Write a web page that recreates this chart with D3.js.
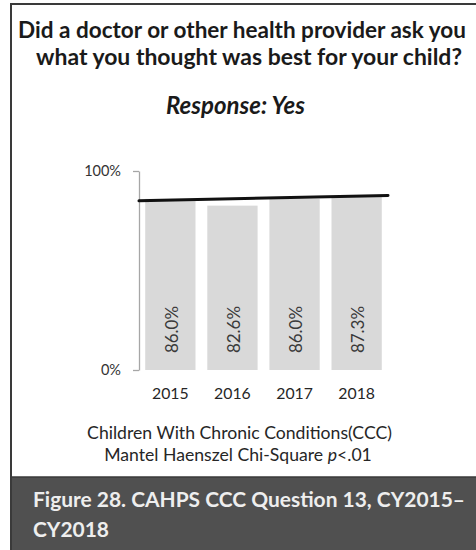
<!DOCTYPE html>
<html>
<head>
<meta charset="utf-8">
<script src="https://cdn.jsdelivr.net/npm/d3@7"></script>
<style>
  html, body { margin: 0; padding: 0; background: #ffffff; }
  svg { display: block; }
  text { font-family: Lato, "Open Sans", sans-serif; }
</style>
</head>
<body>
<svg id="chart" width="476" height="550"></svg>
<script>
// Survey years and the share of parents answering "Yes"
const years = ["2015", "2016", "2017", "2018"];
const yesShare = [86.0, 82.6, 86.0, 87.3];
// Trend line level at the start and end of the period (percent)
const trendEnds = [85.0, 87.7];
// Axis ticks (percent)
const yTicks = [0, 100];

const titleLines = [
  "Did a doctor or other health provider ask you",
  "what you thought was best for your child?"
];
const subtitle = "Response: Yes";
const noteLine1 = "Children With Chronic Conditions(CCC)";
const noteLine2 = ["Mantel Haenszel Chi-Square ", "p", "<.01"];
const captionLines = ["Figure 28. CAHPS CCC Question 13, CY2015\u2013", "CY2018"];

const svg = d3.select("#chart");

// scale a text's font size so that it spans the given width
function fit(sel, width) {
  const len = sel.node().getComputedTextLength();
  const fs = parseFloat(sel.attr("font-size"));
  sel.attr("font-size", (fs * width / len).toFixed(2));
  return sel;
}

// frame
svg.append("rect")
  .attr("x", 11).attr("y", 477).attr("width", 465).attr("height", 73)
  .attr("fill", "#505050");
svg.append("line")
  .attr("x1", 11).attr("x2", 476).attr("y1", 477).attr("y2", 477)
  .attr("stroke", "#3a3a3a").attr("stroke-width", 1.5);
svg.append("line")
  .attr("x1", 10).attr("x2", 476).attr("y1", 4).attr("y2", 4)
  .attr("stroke", "#3a3a3a").attr("stroke-width", 2);
svg.append("line")
  .attr("x1", 11).attr("x2", 11).attr("y1", 3).attr("y2", 550)
  .attr("stroke", "#3a3a3a").attr("stroke-width", 2);

// title
const t1 = svg.append("text")
  .attr("x", 242).attr("y", 37.5).attr("text-anchor", "middle")
  .attr("font-size", 20).attr("font-weight", 700).attr("fill", "#1a1a1a")
  .text(titleLines[0]);
fit(t1, 448);
const t2 = svg.append("text")
  .attr("x", 249).attr("y", 65).attr("text-anchor", "middle")
  .attr("font-size", 20).attr("font-weight", 700).attr("fill", "#1a1a1a")
  .text(titleLines[1]);
fit(t2, 426);
const st = svg.append("text")
  .attr("x", 235.5).attr("y", 114).attr("text-anchor", "middle")
  .attr("font-size", 18).attr("font-weight", 700).attr("font-style", "italic")
  .attr("fill", "#1a1a1a")
  .text(subtitle);
fit(st, 139);

// scales
const x = d3.scaleBand()
  .domain(years)
  .range([139, 388])
  .paddingInner(0.19)
  .paddingOuter(0.1);
const y = d3.scaleLinear().domain([0, 100]).range([370, 171]);

// y axis
const yAxis = svg.append("g")
  .attr("transform", "translate(139,0)")
  .call(d3.axisLeft(y).tickValues(yTicks).tickSize(6).tickSizeOuter(0)
    .tickPadding(12).tickFormat(d => d + "%"));
yAxis.select(".domain").attr("stroke", "#a6a6a6").attr("stroke-width", 1.3);
yAxis.selectAll(".tick line").attr("stroke", "#a6a6a6").attr("stroke-width", 1.3);
yAxis.selectAll(".tick text")
  .attr("font-family", "Lato, sans-serif").attr("font-size", 14.5)
  .attr("fill", "#333333");

// bars
svg.append("g").selectAll("rect")
  .data(years)
  .join("rect")
  .attr("x", d => x(d))
  .attr("width", x.bandwidth())
  .attr("y", (d, i) => y(yesShare[i]))
  .attr("height", (d, i) => y(0) - y(yesShare[i]))
  .attr("fill", "#d9d9d9");

// value labels inside the bars
svg.append("g").selectAll("text")
  .data(years)
  .join("text")
  .attr("transform", d => `translate(${x(d) + x.bandwidth() / 2 + 1},329.5) rotate(-90)`)
  .attr("text-anchor", "middle")
  .attr("dominant-baseline", "central")
  .attr("font-size", 17)
  .attr("fill", "#3a3a3a")
  .text((d, i) => yesShare[i].toFixed(1) + "%");

// trend line across the plot
const [x0, x1] = x.range();
svg.append("line")
  .attr("x1", x0).attr("x2", x1)
  .attr("y1", y(trendEnds[0])).attr("y2", y(trendEnds[1]))
  .attr("stroke", "#111111").attr("stroke-width", 3)
  .attr("stroke-linecap", "round");

// year labels
svg.append("g").selectAll("text")
  .data(years)
  .join("text")
  .attr("x", d => x(d) + x.bandwidth() / 2)
  .attr("y", 399)
  .attr("text-anchor", "middle")
  .attr("font-size", 15.8)
  .attr("fill", "#262626")
  .text(d => d);

// footnotes
const n1 = svg.append("text")
  .attr("x", 239.5).attr("y", 439).attr("text-anchor", "middle")
  .attr("font-size", 15).attr("fill", "#262626")
  .text(noteLine1);
fit(n1, 305);
const n2 = svg.append("text")
  .attr("x", 238).attr("y", 461).attr("text-anchor", "middle")
  .attr("font-size", 15).attr("fill", "#262626");
n2.append("tspan").text(noteLine2[0]);
n2.append("tspan").attr("font-style", "italic").text(noteLine2[1]);
n2.append("tspan").text(noteLine2[2]);
fit(n2, 268);

// figure caption
const c1 = svg.append("text")
  .attr("x", 33).attr("y", 507)
  .attr("font-size", 20).attr("font-weight", 700).attr("fill", "#eeeeee")
  .text(captionLines[0]);
fit(c1, 432);
svg.append("text")
  .attr("x", 33).attr("y", 537)
  .attr("font-size", c1.attr("font-size")).attr("font-weight", 700).attr("fill", "#eeeeee")
  .text(captionLines[1]);
</script>
</body>
</html>
